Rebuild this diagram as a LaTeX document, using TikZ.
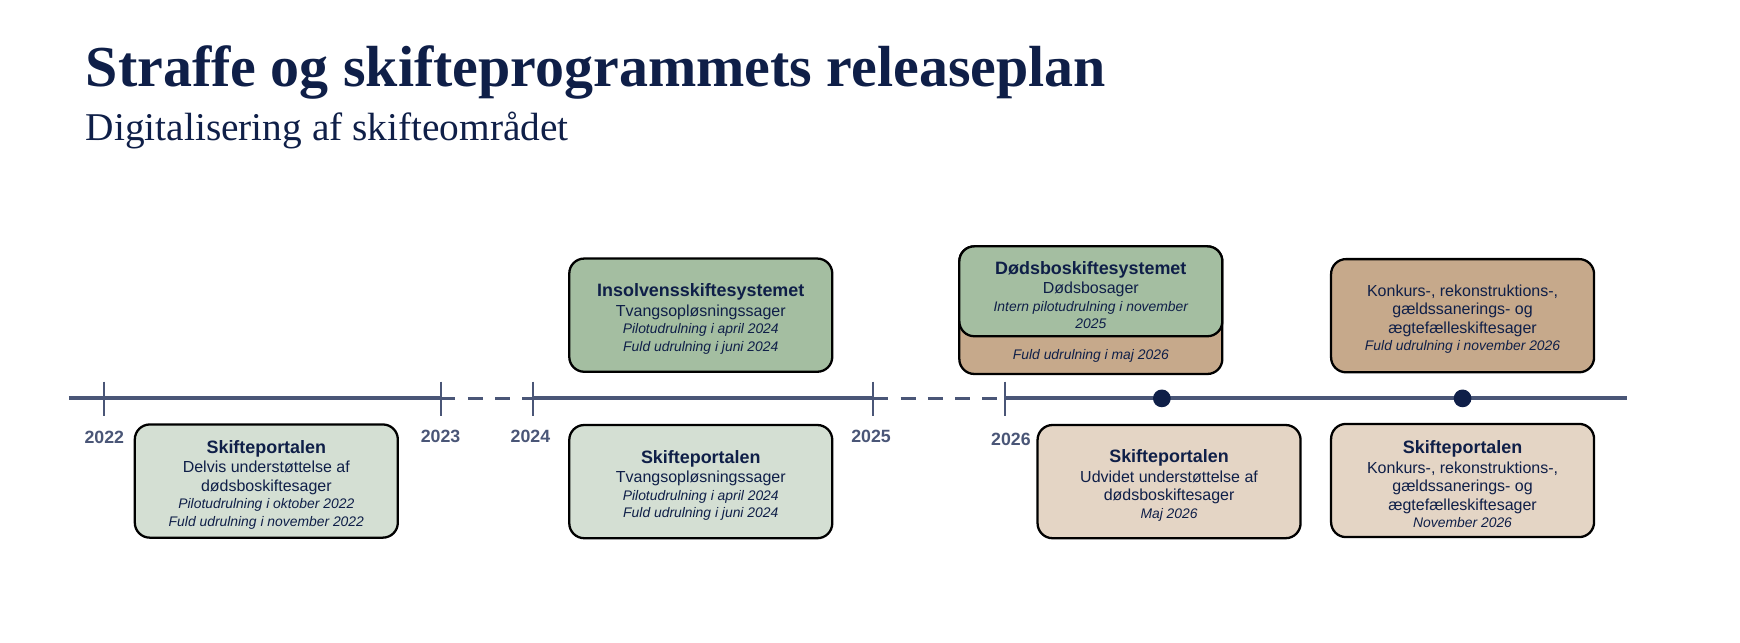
\documentclass[tikz,border=0pt]{standalone}
\usepackage{fontspec}
\setmainfont{Liberation Sans}
\newfontfamily\titlefont{Liberation Serif}
\usetikzlibrary{calc}
\definecolor{navy}{HTML}{0F1F48}
\definecolor{slate}{HTML}{4A5677}
\definecolor{palegreen}{HTML}{D4DFD3}
\definecolor{sagegreen}{HTML}{A4BEA1}
\definecolor{sand}{HTML}{C6A98B}
\definecolor{palesand}{HTML}{E4D5C5}
\newcommand\pxu{0.022194cm}
\newcommand\boxhead[1]{{\bfseries\fontsize{10.2pt}{12pt}\selectfont\rule{0pt}{11.5pt}#1}}
\newcommand\boxdate[1]{{\itshape\fontsize{7.9pt}{9.5pt}\selectfont #1}}
\tikzset{
  release/.style={
    draw=black, line width=1.3pt, rounded corners=8.5pt,
    minimum width=237*\pxu, minimum height=102*\pxu,
    inner sep=0pt, align=center, text=navy,
    font=\fontsize{9.1pt}{9.9pt}\selectfont
  },
  timeline/.style={
    slate, line width=2.3pt
  },
  pause/.style={
    slate, line width=2pt, dash pattern=on 8.5pt off 7pt
  },
  yeartick/.style={
    slate, line width=1.1pt
  },
  year/.style={
    slate, font=\bfseries\fontsize{10.1pt}{12pt}\selectfont
  },
  milestone/.style={
    circle, fill=navy, minimum size=16*\pxu,
    inner sep=0pt
  }
}

\begin{document}
\begin{tikzpicture}[x=\pxu, y=-\pxu]
      \useasboundingbox (0,0) rectangle (1568,579.4);
      \node[anchor=base west, inner sep=0pt, text=navy, font=\titlefont\bfseries\fontsize{33pt}{38pt}\selectfont] (title) at (77,78) {Straffe og skifteprogrammets releaseplan};
      \node[anchor=base west, inner sep=0pt, text=navy, font=\titlefont\fontsize{22.4pt}{26pt}\selectfont] (subtitle) at (77,127) {Digitalisering af skifteområdet};
      \coordinate (start) at (62,359);
      \coordinate (t22) at (94,359);
      \coordinate (t23) at (397,359);
      \coordinate (t24) at (480,359);
      \coordinate (t25) at (787,359);
      \coordinate (t26) at (906,359);
      \coordinate (stop) at (1466,359);
      \draw[timeline] (start) -- (t23);
      \draw[pause] (t23) -- (t24);
      \draw[timeline] (t24) -- (t25);
      \draw[pause] (t25) -- (t26);
      \draw[timeline] (t26) -- (stop);
      \draw[yeartick] ($(t22)+(0,-15)$) -- ($(t22)+(0,16)$);
      \draw[yeartick] ($(t23)+(0,-15)$) -- ($(t23)+(0,16)$);
      \draw[yeartick] ($(t24)+(0,-15)$) -- ($(t24)+(0,16)$);
      \draw[yeartick] ($(t25)+(0,-15)$) -- ($(t25)+(0,16)$);
      \draw[yeartick] ($(t26)+(0,-15)$) -- ($(t26)+(0,16)$);
      \node[year] (y22) at ($(t22)+(0,35)$) {2022};
      \node[year] (y23) at ($(t23)+(0,34)$) {2023};
      \node[year] (y24) at ($(t24)+(-2,34)$) {2024};
      \node[year] (y25) at ($(t25)+(-2,34)$) {2025};
      \node[year] (y26) at ($(t26)+(5,37)$) {2026};
      \node[milestone] (maj) at (1047,359) {};
      \node[milestone] (nov) at (1318,359) {};
      \node[release, fill=palegreen] (sp22) at (240,433.5) {\boxhead{Skifteportalen}\\[1.3pt] Delvis understøttelse af\\[0.6pt] dødsboskiftesager\\ \boxdate{Pilotudrulning i oktober 2022}\\ \boxdate{Fuld udrulning i november 2022}};
      \node[release, fill=sagegreen] (insolv) at (631.5,284) {\boxhead{Insolvensskiftesystemet}\\[1.3pt] Tvangsopløsningssager\\ \boxdate{Pilotudrulning i april 2024}\\ \boxdate{Fuld udrulning i juni 2024}};
      \node[release, fill=palegreen] (sp24) at (631.5,434) {\boxhead{Skifteportalen}\\[1.3pt] Tvangsopløsningssager\\ \boxdate{Pilotudrulning i april 2024}\\ \boxdate{Fuld udrulning i juni 2024}};
      \node[release, fill=sand, minimum height=115*\pxu] (dbback) at (983,279.5) {};
      \node[release, fill=sagegreen, minimum height=81*\pxu, anchor=north] (dbfront) at (dbback.north) {\boxhead{Dødsboskiftesystemet}\\[1.3pt] Dødsbosager\\ \boxdate{Intern pilotudrulning i november}\\ \boxdate{2025}};
      \node[text=navy] (dbfull) at ($(dbfront.south)!0.5!(dbback.south)$) {\boxdate{Fuld udrulning i maj 2026}};
      \node[release, fill=sand] (konkurs) at (1318,284.5) {\rule{0pt}{10.6pt}Konkurs-, rekonstruktions-,\\[0.6pt] gældssanerings- og\\[0.6pt] ægtefælleskiftesager\\ \boxdate{Fuld udrulning i november 2026}};
      \node[release, fill=palesand] (sp26maj) at (1053.5,434) {\boxhead{Skifteportalen}\\[1.3pt] Udvidet understøttelse af\\[0.6pt] dødsboskiftesager\\ \boxdate{Maj 2026}};
      \node[release, fill=palesand] (sp26nov) at (1318,433) {\boxhead{Skifteportalen}\\[1.3pt] Konkurs-, rekonstruktions-,\\[0.6pt] gældssanerings- og\\[0.6pt] ægtefælleskiftesager\\ \boxdate{November 2026}};
\end{tikzpicture}
\end{document}
